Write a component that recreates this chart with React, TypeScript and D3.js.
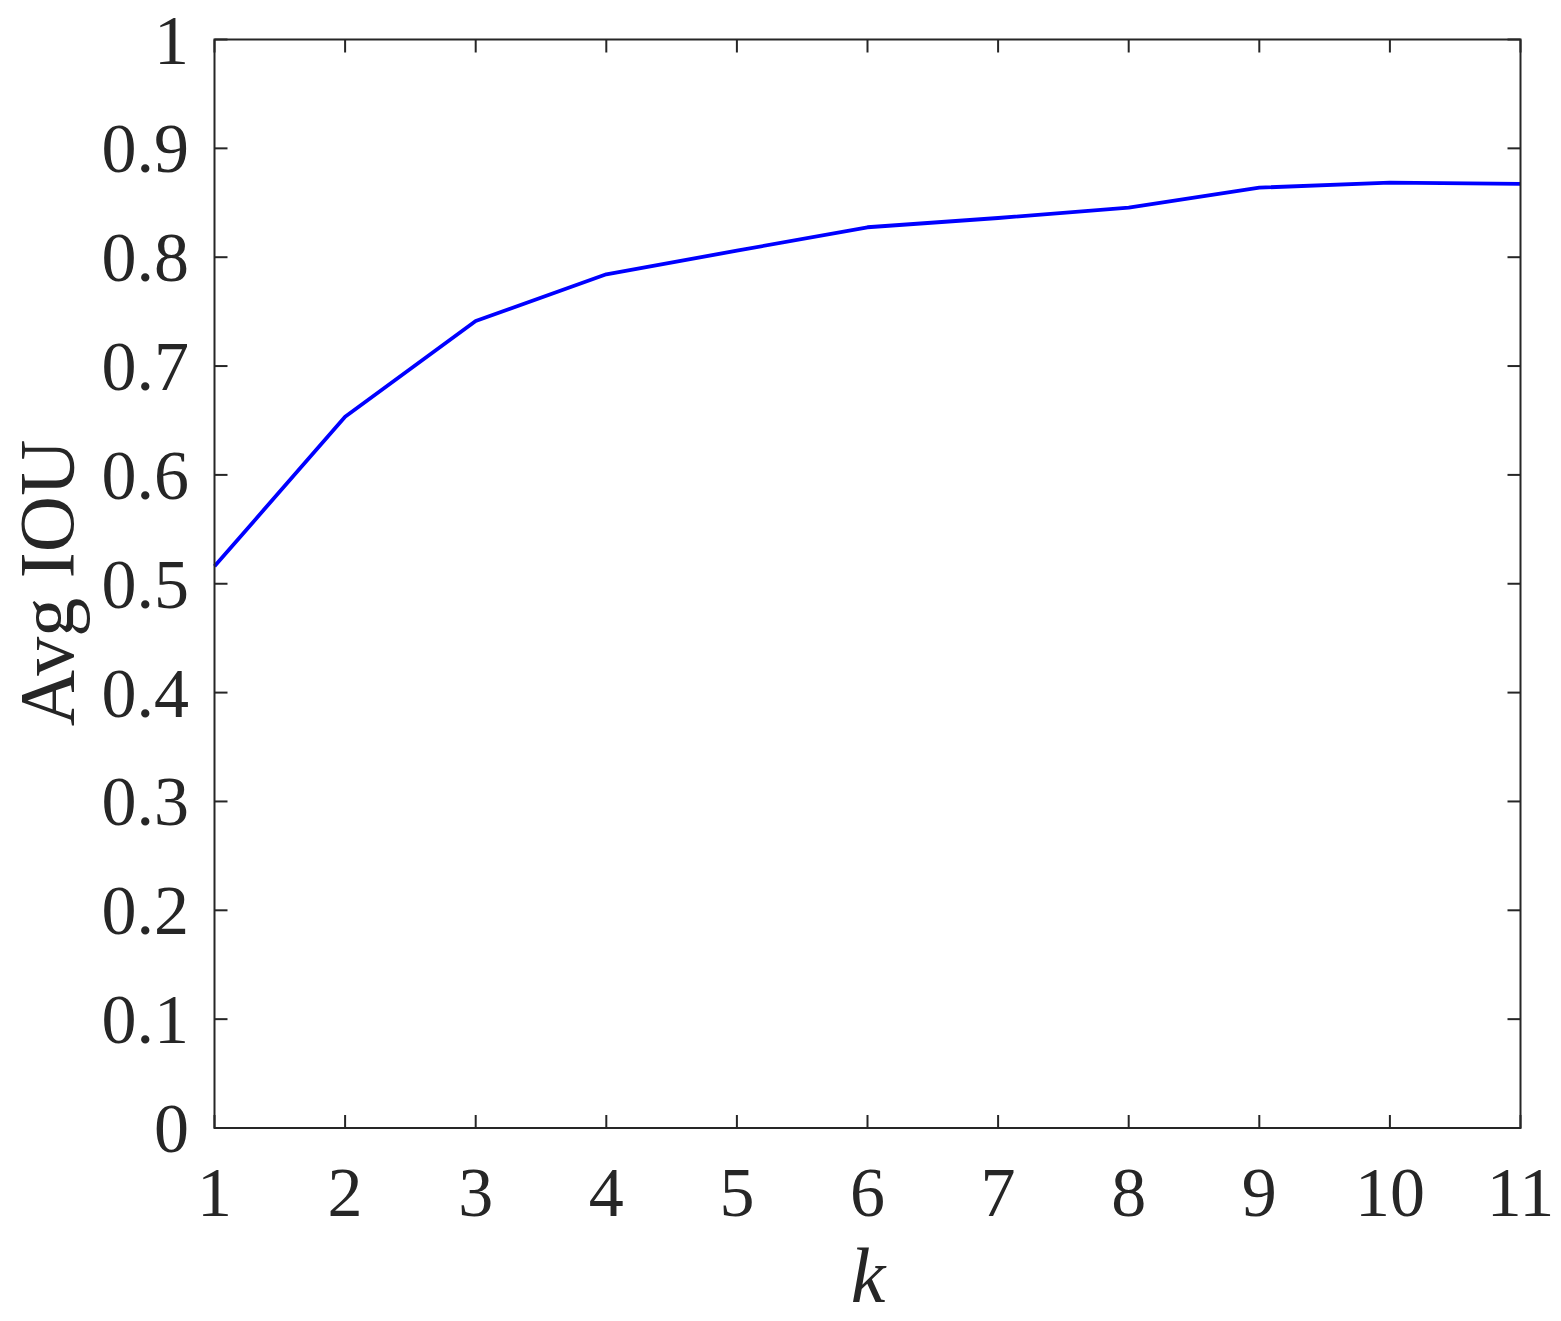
import React from "react";
import * as d3 from "d3";

const kValues = [1, 2, 3, 4, 5, 6, 7, 8, 9, 10, 11];
const avgIou = [0.516, 0.6535, 0.7414, 0.7843, 0.806, 0.8275, 0.836, 0.8455, 0.8639, 0.8685, 0.8673];
const yTicks = [0, 0.1, 0.2, 0.3, 0.4, 0.5, 0.6, 0.7, 0.8, 0.9, 1];
const yTickLabels = ["0", "0.1", "0.2", "0.3", "0.4", "0.5", "0.6", "0.7", "0.8", "0.9", "1"];

const W = 1561;
const H = 1321;
const left = 214.5;
const right = 1520.5;
const top = 39.5;
const bottom = 1128;
const axisColor = "#262626";
const font = "'Liberation Serif', 'Times New Roman', serif";

export default function App() {
  const x = d3.scaleLinear().domain([1, 11]).range([left, right]);
  const y = d3.scaleLinear().domain([0, 1]).range([bottom, top]);
  const line = d3
    .line<number>()
    .x((_, i) => x(kValues[i]))
    .y((d) => y(d));
  const tickLen = 13;
  return (
    <svg
      width={W}
      height={H}
      style={{ position: "absolute", left: 0, top: 0, display: "block", background: "#fff" }}
    >
      <rect x={0} y={0} width={W} height={H} fill="#fff" />
      <path d={line(avgIou) || ""} fill="none" stroke="#0000ff" strokeWidth={3.8} strokeLinejoin="round" />
      <rect x={left} y={top} width={right - left} height={bottom - top} fill="none" stroke={axisColor} strokeWidth={2} />
      {kValues.map((k) => (
        <g key={"xt" + k}>
          <line x1={x(k)} x2={x(k)} y1={bottom} y2={bottom - tickLen} stroke={axisColor} strokeWidth={2} />
          <line x1={x(k)} x2={x(k)} y1={top} y2={top + tickLen} stroke={axisColor} strokeWidth={2} />
          <text
            x={x(k)}
            y={1216}
            textAnchor="middle"
            fontFamily={font}
            fontSize={70}
            fill={axisColor}
          >
            {String(k)}
          </text>
        </g>
      ))}
      {yTicks.map((t, i) => (
        <g key={"yt" + i}>
          <line x1={left} x2={left + tickLen} y1={y(t)} y2={y(t)} stroke={axisColor} strokeWidth={2} />
          <line x1={right} x2={right - tickLen} y1={y(t)} y2={y(t)} stroke={axisColor} strokeWidth={2} />
          <text
            x={189}
            y={y(t) + 24}
            textAnchor="end"
            fontFamily={font}
            fontSize={70}
            fill={axisColor}
          >
            {yTickLabels[i]}
          </text>
        </g>
      ))}
      <text
        transform={`translate(73, 583) rotate(-90)`}
        textAnchor="middle"
        fontFamily={font}
        fontSize={78}
        fill={axisColor}
      >
        Avg IOU
      </text>
      <text
        x={868}
        y={1302}
        textAnchor="middle"
        fontFamily={font}
        fontStyle="italic"
        fontSize={78}
        fill={axisColor}
      >
        k
      </text>
    </svg>
  );
}
